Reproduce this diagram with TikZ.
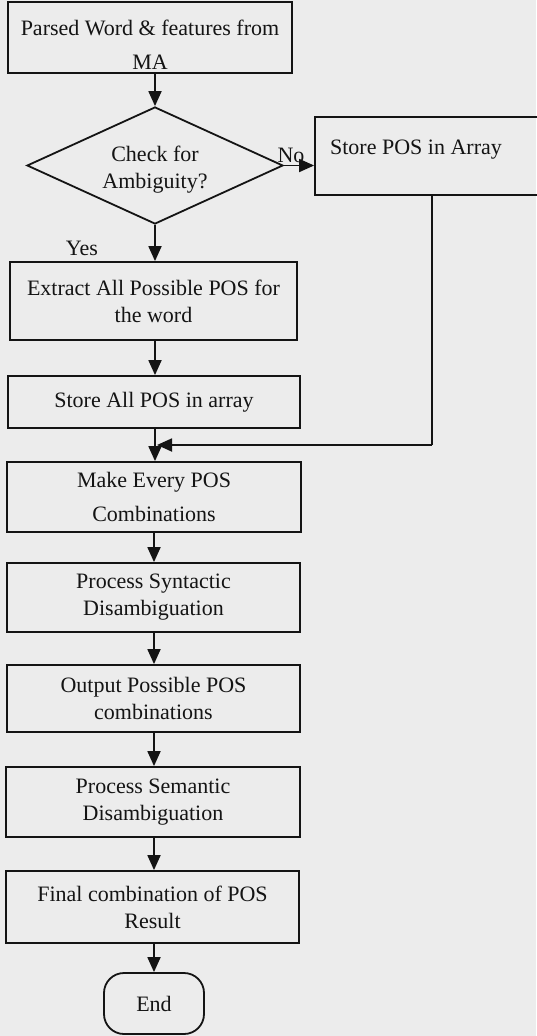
\documentclass[tikz,border=0pt]{standalone}
\usepackage{fontspec}
\setmainfont{Liberation Serif}
\usetikzlibrary{arrows.meta,shapes.geometric}
\definecolor{paper}{HTML}{ECECEC}
\definecolor{ink}{HTML}{141414}
\begin{document}
\begin{tikzpicture}[x=1pt,y=-1pt,
  every node/.style={text=ink,font=\fontsize{22}{27}\selectfont},
  procbox/.style={draw=ink,line width=1.8pt,rectangle,inner sep=0pt,align=center},
  decision/.style={draw=ink,line width=1.8pt,diamond,inner sep=0pt,align=center},
  terminal/.style={draw=ink,line width=1.8pt,rectangle,rounded corners=20pt,inner sep=0pt},
  flow/.style={draw=ink,line width=1.8pt,-{Triangle[length=15pt,width=13pt]}},
  plain/.style={draw=ink,line width=1.8pt}]
  % page
  \fill[paper] (0,0) rectangle (536,1036);
  \useasboundingbox (0,0) rectangle (536,1036);

  % main column
  \node[procbox,minimum width=284pt,minimum height=71pt] (parsed) at (150,37.5) {};
  \node[align=center] (parsedtext) at (150,45)
    {Parsed Word \& features from\\[7pt]MA};
  \node[decision,minimum width=256pt,minimum height=117pt,aspect=2.19] (check) at (155,165.5) {};
  \node[align=center] (checktext) at (155,170) {Check for\\Ambiguity?};
  \node[procbox,minimum width=287pt,minimum height=78pt] (extract) at (153.5,301)
    {Extract All Possible POS for\\the word};
  \node[procbox,minimum width=292pt,minimum height=52pt] (storeall) at (154,402)
    {Store All POS in array};
  \node[procbox,minimum width=294pt,minimum height=70pt] (make) at (154,497)
    {Make Every POS\\[7pt]Combinations};
  \node[procbox,minimum width=293pt,minimum height=69pt] (syn) at (153.5,597.5)
    {Process Syntactic\\Disambiguation};
  \node[procbox,minimum width=293pt,minimum height=67pt] (out) at (153.5,698.5)
    {Output Possible POS\\combinations};
  \node[procbox,minimum width=294pt,minimum height=70pt] (sem) at (153,802)
    {Process Semantic\\Disambiguation};
  \node[procbox,minimum width=293pt,minimum height=72pt] (final) at (152.5,907)
    {Final combination of POS\\Result};
  \node[terminal,minimum width=100pt,minimum height=61pt] (end) at (154,1003.5) {End};

  % side branch
  \node[procbox,minimum width=240pt,minimum height=78pt] (storepos) at (435,156) {};
  \node (storetext) at (416,150) {Store POS in Array};
  \coordinate (drop) at (432,195);
  \coordinate (bend) at (432,445);
  \coordinate (join) at (157,445);

  % labels
  \node (no) at (291,155) {No};
  \node (yes) at (82,248) {Yes};

  % connectors
  \draw[flow] (check.north |- parsed.south) -- (check.north);
  \draw[flow] (check.south) -- (check.south |- extract.north);
  \draw[flow] (check.east) -- (check.east -| storepos.west);
  \draw[flow] (check.south |- extract.south) -- (check.south |- storeall.north);
  \draw[flow] (check.south |- storeall.south) -- (check.south |- make.north);
  \draw[plain] (drop) -- (bend);
  \draw[flow] (bend) -- (join);
  \draw[flow] (end.north |- make.south) -- (end.north |- syn.north);
  \draw[flow] (end.north |- syn.south) -- (end.north |- out.north);
  \draw[flow] (end.north |- out.south) -- (end.north |- sem.north);
  \draw[flow] (end.north |- sem.south) -- (end.north |- final.north);
  \draw[flow] (end.north |- final.south) -- (end.north);
\end{tikzpicture}
\end{document}
